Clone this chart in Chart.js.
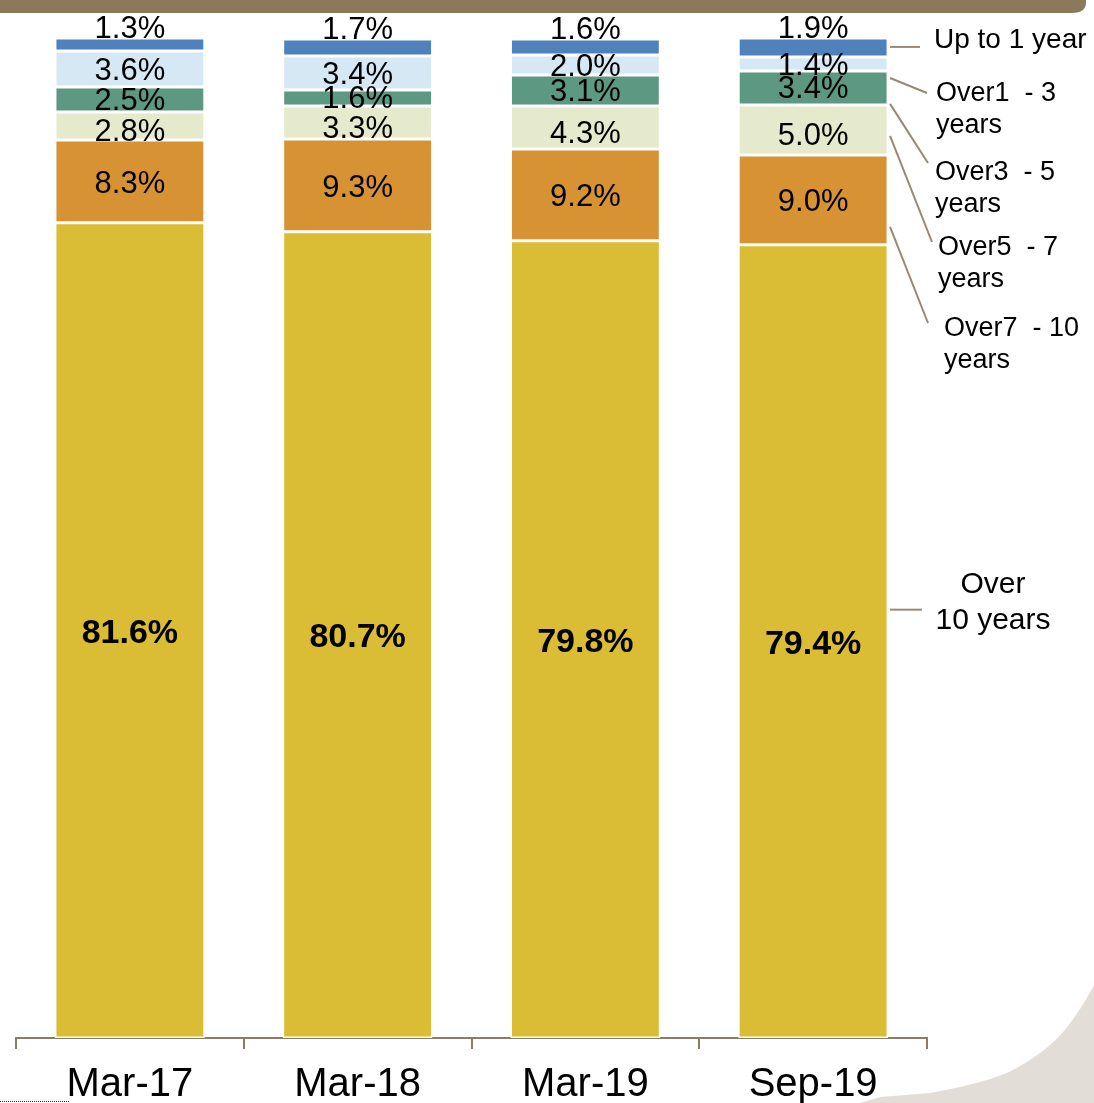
<!DOCTYPE html>
<html>
<head>
<meta charset="utf-8">
<script src="https://cdn.jsdelivr.net/npm/chart.js@4/dist/chart.umd.min.js"></script>
<style>
  html, body { margin: 0; padding: 0; background: #ffffff; }
  #wrap { width: 1094px; height: 1103px; position: relative; }
</style>
</head>
<body>
<div id="wrap"><canvas id="c" width="1094" height="1103"></canvas></div>
<script>
// ---- data ----
const categories = ['Mar-17', 'Mar-18', 'Mar-19', 'Sep-19'];
const over10    = [81.6, 80.7, 79.8, 79.4];
const over7to10 = [8.3, 9.3, 9.2, 9.0];
const over5to7  = [2.8, 3.3, 4.3, 5.0];
const over3to5  = [2.5, 1.6, 3.1, 3.4];
const over1to3  = [3.6, 3.4, 2.0, 1.4];
const upTo1     = [1.3, 1.7, 1.6, 1.9];
const seriesNames = ['Over 10 years', 'Over7 - 10 years', 'Over5 - 7 years', 'Over3 - 5 years', 'Over1 - 3 years', 'Up to 1 year'];
const legendLines = [['Over', '10 years'], ['Over7  - 10', 'years'], ['Over5  - 7', 'years'], ['Over3  - 5', 'years'], ['Over1  - 3', 'years'], ['Up to 1 year']];

const colors = ['#DBBD35', '#D69233', '#E4EACB', '#5C9882', '#D6E8F3', '#4F81BD'];
const seriesData = [over10, over7to10, over5to7, over3to5, over1to3, upTo1];

const FONT = '"Liberation Sans", Arial, sans-serif';

// background decorations
const decoPlugin = {
  id: 'deco',
  beforeDraw(chart) {
    const ctx = chart.ctx;
    ctx.save();
    ctx.fillStyle = '#ffffff';
    ctx.fillRect(0, 0, chart.width, chart.height);
    // top banner
    ctx.fillStyle = '#8A7A5B';
    ctx.beginPath();
    ctx.moveTo(0, 0);
    ctx.lineTo(1086, 0);
    ctx.lineTo(1086, 2);
    ctx.quadraticCurveTo(1086, 13, 1072, 13);
    ctx.lineTo(0, 13);
    ctx.closePath();
    ctx.fill();
    // bottom-right swoosh
    ctx.fillStyle = '#E2DED7';
    ctx.beginPath();
    ctx.moveTo(860, 1103);
    ctx.lineTo(880, 1097);
    ctx.lineTo(930, 1093);
    ctx.quadraticCurveTo(990, 1082, 1013, 1070);
    ctx.quadraticCurveTo(1050, 1050, 1068, 1026);
    ctx.quadraticCurveTo(1082, 1008, 1094, 985);
    ctx.lineTo(1094, 1103);
    ctx.closePath();
    ctx.fill();
    // small dotted line bottom-left
    ctx.strokeStyle = '#333333';
    ctx.lineWidth = 1;
    ctx.setLineDash([1, 1]);
    ctx.beginPath();
    ctx.moveTo(0, 1101.5);
    ctx.lineTo(70, 1101.5);
    ctx.stroke();
    ctx.restore();
  }
};

// per-series vertical label nudges (px)
const labelNudge = [3, 3, 7, 2, 2, 0];

const labelPlugin = {
  id: 'labels',
  afterDatasetsDraw(chart) {
    const ctx = chart.ctx;
    ctx.save();
    ctx.textAlign = 'center';
    ctx.textBaseline = 'middle';
    ctx.fillStyle = '#000000';
    chart.data.datasets.forEach((ds, di) => {
      const meta = chart.getDatasetMeta(di);
      meta.data.forEach((bar, i) => {
        const v = ds.data[i];
        const txt = v.toFixed(1) + '%';
        let y;
        if (di === chart.data.datasets.length - 1) {
          y = Math.min(bar.y, bar.base) - 9;
        } else {
          y = (bar.y + bar.base) / 2 + labelNudge[di];
        }
        if (di === 0) {
          ctx.font = 'bold 34px ' + FONT;
        } else {
          ctx.font = '31px ' + FONT;
        }
        ctx.fillText(txt, bar.x, y);
      });
    });
    ctx.restore();
  }
};

// series-name callouts for the last bar (anchor = fraction of the segment, from its base)
const anchorFrac = [0.54, 0.2, 0.38, 0.03, -0.5, 0.53];
const legendPos = [
  { x: 993, y: 585, align: 'center', size: 30 },
  { x: 944, y: 329, align: 'left', size: 27 },
  { x: 938, y: 248, align: 'left', size: 27 },
  { x: 935, y: 173, align: 'left', size: 27 },
  { x: 936, y: 94, align: 'left', size: 27 },
  { x: 934, y: 40, align: 'left', size: 28 }
];
const lineEnd = [
  { x: 922 },
  { x: 928, y: 323 },
  { x: 932, y: 242 },
  { x: 928, y: 163 },
  { x: 927, y: 93 },
  { x: 920 }
];

const calloutPlugin = {
  id: 'callouts',
  afterDraw(chart) {
    const ctx = chart.ctx;
    const yScale = chart.scales.y;
    const last = categories.length - 1;
    ctx.save();
    ctx.strokeStyle = '#968A73';
    ctx.lineWidth = 2;
    ctx.fillStyle = '#000000';
    ctx.textBaseline = 'middle';
    let cum = 0;
    chart.data.datasets.forEach((ds, di) => {
      const v = ds.data[last];
      const bar = chart.getDatasetMeta(di).data[last];
      const sx = bar.x + bar.width / 2 + 2;
      const sy = yScale.getPixelForValue(cum + v * anchorFrac[di]);
      const ey = lineEnd[di].y === undefined ? sy : lineEnd[di].y;
      ctx.beginPath();
      ctx.moveTo(sx, sy);
      ctx.lineTo(lineEnd[di].x, ey);
      ctx.stroke();
      cum += v;
      const p = legendPos[di];
      ctx.font = p.size + 'px ' + FONT;
      ctx.textAlign = p.align;
      const lh = di === 0 ? 36 : 32;
      legendLines[di].forEach((t, li) => {
        ctx.fillText(t, p.x, p.y + li * lh);
      });
    });
    ctx.restore();
  }
};

const datasets = seriesData.map((d, i) => ({
  label: seriesNames[i],
  data: d,
  backgroundColor: colors[i],
  borderColor: '#ffffff',
  borderWidth: 1.5,
  borderSkipped: false,
  barPercentage: 0.658,
  categoryPercentage: 1.0
}));

new Chart(document.getElementById('c'), {
  type: 'bar',
  data: { labels: categories, datasets },
  plugins: [decoPlugin, labelPlugin, calloutPlugin],
  options: {
    responsive: false,
    animation: false,
    devicePixelRatio: 1,
    layout: { padding: { left: 16, right: 167, top: 39, bottom: 0 } },
    plugins: { legend: { display: false }, tooltip: { enabled: false } },
    scales: {
      x: {
        stacked: true,
        afterFit(scale) { scale.height = 65; },
        grid: {
          offset: true,
          drawOnChartArea: false,
          drawTicks: true,
          tickLength: 11,
          color: '#8B7D65',
          lineWidth: 2
        },
        border: { display: true, color: '#8B7D65', width: 2 },
        ticks: {
          color: '#000000',
          padding: 14,
          font: { family: FONT, size: 40, lineHeight: 1.1 }
        }
      },
      y: {
        stacked: true,
        display: false,
        min: 0,
        max: 100
      }
    }
  }
});
</script>
</body>
</html>
